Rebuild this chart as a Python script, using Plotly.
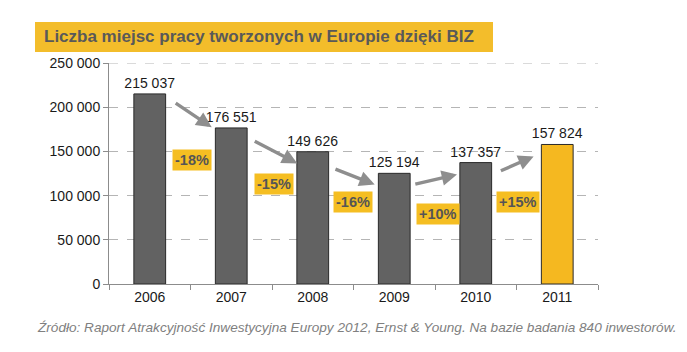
import plotly.graph_objects as go

years = ["2006", "2007", "2008", "2009", "2010", "2011"]
jobs = [215037, 176551, 149626, 125194, 137357, 157824]
bar_colors = ["#626262", "#626262", "#626262", "#626262", "#626262", "#F5B820"]
changes = ["-18%", "-15%", "-16%", "+10%", "+15%"]
change_x = [0.52, 1.52, 2.49, 3.54, 4.52]
change_y = [139800, 113600, 93200, 79500, 93200]
arrow_start_x = [0.30, 1.27, 2.26, 3.24, 4.29]
arrow_start_y = [205700, 162500, 130700, 112500, 127300]
arrow_end_x = [0.76, 1.81, 2.76, 3.77, 4.71]
arrow_end_y = [177300, 136400, 112500, 123900, 144300]
y_ticks = [0, 50000, 100000, 150000, 200000, 250000]
y_max = 250000

title_text = "Liczba miejsc pracy tworzonych w Europie dzięki BIZ"
source_text = "Źródło: Raport Atrakcyjność Inwestycyjna Europy 2012, Ernst & Young. Na bazie badania 840 inwestorów."

labels = [f"{v:,}".replace(",", " ") for v in jobs]

fig = go.Figure()
fig.add_trace(go.Bar(
    x=years, y=jobs, width=0.39,
    marker=dict(color=bar_colors, line=dict(color="#2a2a2a", width=1)),
    text=labels, textposition="outside", cliponaxis=False, constraintext="none",
    textfont=dict(family="Arial, Liberation Sans", size=14, color="#1a1a1a"),
    hoverinfo="skip",
))

W, H = 687, 352
L, R, T, B = 109, 89, 63, 68
pw, ph = W - L - R, H - T - B

def px2paper(px, py):
    return (px - L) / pw, (H - B - py) / ph

annotations = []
shapes = []
# top gridline
shapes.append(dict(type="line", xref="paper", yref="y", x0=0, x1=1, y0=y_max, y1=y_max,
                   line=dict(color="#b5b5b5", width=1, dash="dash"), layer="below"))
# arrows
for sx, sy, ex, ey in zip(arrow_start_x, arrow_start_y, arrow_end_x, arrow_end_y):
    annotations.append(dict(
        x=ex, y=ey, ax=sx, ay=sy, xref="x", yref="y", axref="x", ayref="y",
        showarrow=True, arrowhead=2, arrowsize=0.9, arrowwidth=3.4,
        arrowcolor="#8e8e8e", text="", standoff=0, startstandoff=0,
    ))
# change boxes
for t, cx, cy in zip(changes, change_x, change_y):
    annotations.append(dict(
        x=cx, y=cy, xref="x", yref="y", text=f"<b>{t}</b>", showarrow=False,
        bgcolor="#F5BE22", borderpad=2,
        font=dict(family="Arial, Liberation Sans", size=14.5, color="#555555"),
    ))

# title box
x0, y0 = px2paper(35, 22)
x1, y1 = px2paper(493, 52)
shapes.append(dict(type="rect", xref="paper", yref="paper", x0=x0, x1=x1, y0=y1, y1=y0,
                   fillcolor="#F3BD2B", line=dict(width=0), layer="above"))
tx, ty = px2paper(42, 37)
annotations.append(dict(
    x=tx, y=ty, xref="paper", yref="paper", xanchor="left", yanchor="middle",
    text=f"<b>{title_text}</b>", showarrow=False,
    font=dict(family="Arial, Liberation Sans", size=17, color="#595959"),
))
sx_, sy_ = px2paper(35, 327)
annotations.append(dict(
    x=sx_, y=sy_, xref="paper", yref="paper", xanchor="left", yanchor="middle",
    text=f"<i>{source_text}</i>", showarrow=False,
    font=dict(family="Arial, Liberation Sans", size=13.6, color="#808080"),
))

fig.update_layout(
    width=W, height=H, margin=dict(l=L, r=R, t=T, b=B),
    paper_bgcolor="white", plot_bgcolor="white",
    showlegend=False, separators=", ",
    annotations=annotations, shapes=shapes,
    xaxis=dict(
        type="category", showline=True, linecolor="#8c8c8c", linewidth=1,
        ticks="outside", tickson="boundaries", ticklen=5, tickcolor="#8c8c8c",
        tickfont=dict(family="Arial, Liberation Sans", size=14, color="#1a1a1a"),
        showgrid=False, range=[-0.5, 5.5],
    ),
    yaxis=dict(
        range=[0, y_max], tickvals=y_ticks, tickformat=",d",
        showline=True, linecolor="#8c8c8c", linewidth=1,
        ticks="outside", ticklen=5, tickcolor="#8c8c8c",
        tickfont=dict(family="Arial, Liberation Sans", size=14, color="#1a1a1a"),
        showgrid=True, gridcolor="#b5b5b5", griddash="dash", gridwidth=1,
        zeroline=False,
    ),
)

fig.write_html("out.html")
